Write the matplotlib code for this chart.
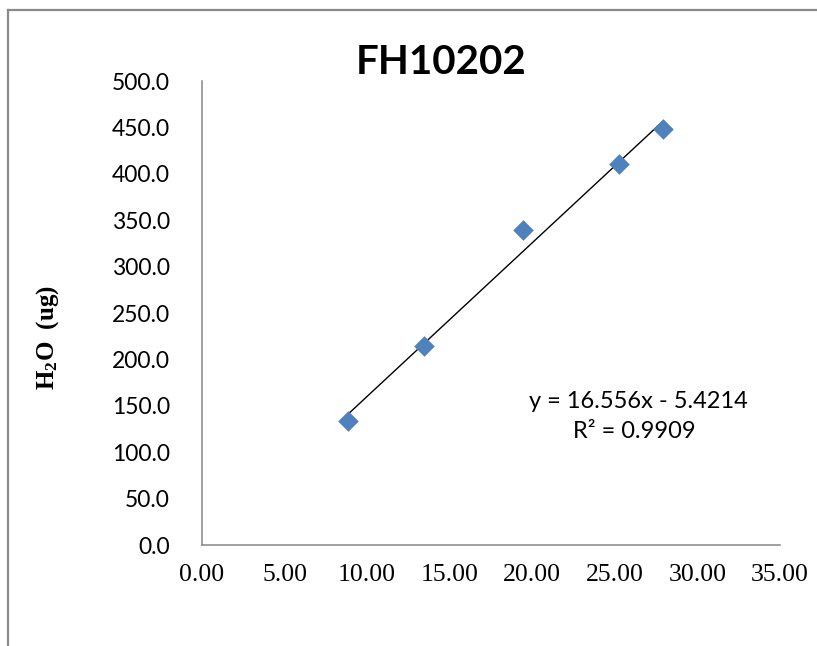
import matplotlib
matplotlib.use("Agg")
import matplotlib.pyplot as plt
from matplotlib.lines import Line2D
import numpy as np

# Data
x_vals = [8.86, 13.44, 19.46, 25.27, 27.93]
y_vals = [133.9, 214.4, 339.4, 410.2, 448.3]
slope = 16.556
intercept = -5.4214
r2 = 0.9909
x_ticks = [0, 5, 10, 15, 20, 25, 30, 35]
y_ticks = [0, 50, 100, 150, 200, 250, 300, 350, 400, 450, 500]
title = "FH10202"

plt.rcParams['mathtext.fontset'] = 'custom'
plt.rcParams['mathtext.rm'] = 'Liberation Serif'
plt.rcParams['mathtext.bf'] = 'Liberation Serif:bold'

W, H = 817, 646
fig = plt.figure(figsize=(W / 100, H / 100), dpi=100)
ax = fig.add_axes([202 / W, 1 - 545 / H, (780 - 202) / W, (545 - 81) / H])

# frame around chart area (left & top visible)
frame_col = '#8a8a8a'
fig.add_artist(Line2D([8 / W, 8 / W], [0, 1 - 10 / H], transform=fig.transFigure,
                      color=frame_col, lw=1.6))
fig.add_artist(Line2D([8 / W, 1.0], [1 - 10 / H, 1 - 10 / H], transform=fig.transFigure,
                      color=frame_col, lw=1.6))

ax.scatter(x_vals, y_vals, marker='D', s=110, color='#4F81BD', zorder=3, linewidths=0)
xs = np.array([min(x_vals), max(x_vals)])
ax.plot(xs, slope * xs + intercept, color='black', lw=1.0, zorder=2)

ax.set_xlim(0, 35)
ax.set_ylim(0, 500)
ax.set_xticks(x_ticks)
ax.set_xticklabels([f"{v:.2f}" for v in x_ticks], fontfamily='Liberation Serif', fontsize=18.5)
ax.set_yticks(y_ticks)
ax.set_yticklabels([f"{v:.1f}" for v in y_ticks], fontfamily='Lato', fontsize=16.5)
ax.tick_params(axis='both', length=0)
ax.tick_params(axis='y', pad=23)
ax.tick_params(axis='x', pad=14)

for s in ['top', 'right']:
    ax.spines[s].set_visible(False)
for s in ['left', 'bottom']:
    ax.spines[s].set_color('#868686')
    ax.spines[s].set_linewidth(1.1)

fig.text(441 / W, 1 - 62 / H, title, fontfamily='Lato', fontweight='bold',
         fontsize=29, ha='center', va='center')

fig.text(48 / W, 1 - 338 / H, r"$\mathbf{H_2O}$  (ug)", fontfamily='Liberation Serif',
         fontweight='bold', fontsize=18, rotation=90, ha='center', va='center')

fig.text(638 / W, 1 - 402 / H, f"y = {slope}x - {abs(intercept)}", fontfamily='Lato',
         fontsize=17, ha='center', va='center')
fig.text(634 / W, 1 - 432 / H, f"R² = {r2}", fontfamily='Lato',
         fontsize=17, ha='center', va='center')

fig.savefig("out.png", dpi=100)
